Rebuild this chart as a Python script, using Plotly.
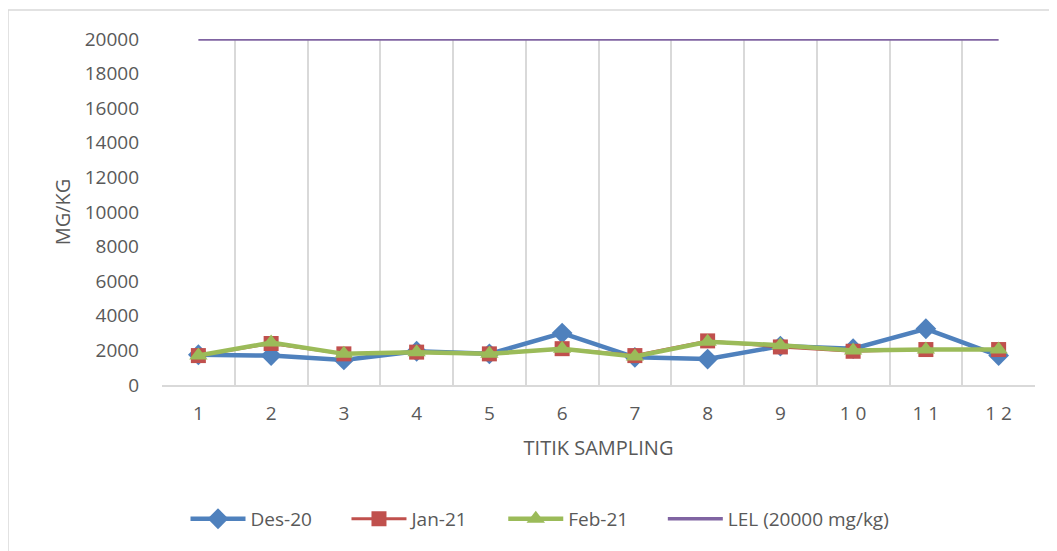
import plotly.graph_objects as go

# Titik sampling 1..12
titik = list(range(1, 13))
titik_label = ["1", "2", "3", "4", "5", "6", "7", "8", "9", "1 0", "1 1", "1 2"]

des_20 = [1750, 1700, 1450, 1950, 1800, 3000, 1600, 1500, 2250, 2100, 3250, 1700]
jan_21 = [1700, 2400, 1800, 1900, 1800, 2100, 1700, 2550, 2200, 1950, 2050, 2050]
feb_21 = [1700, 2450, 1800, 1900, 1800, 2100, 1650, 2500, 2300, 2000, 2050, 2050]
lel = [20000] * 12

y_ticks = list(range(0, 20001, 2000))
y_labels = [str(v) for v in y_ticks]

pad = "\u00a0" * 6  # jarak antar item legenda

fig = go.Figure()

fig.add_trace(go.Scatter(x=titik, y=des_20, name="Des-20" + pad, mode="lines+markers",
                         line=dict(color="#4F81BD", width=4.5),
                         marker=dict(symbol="diamond", size=16, color="#4F81BD")))
fig.add_trace(go.Scatter(x=titik, y=jan_21, name="Jan-21" + pad, mode="lines+markers",
                         line=dict(color="#C0504D", width=3),
                         marker=dict(symbol="square", size=15, color="#C0504D")))
fig.add_trace(go.Scatter(x=titik, y=feb_21, name="Feb-21" + pad, mode="lines+markers",
                         line=dict(color="#9BBB59", width=4.5),
                         marker=dict(symbol="triangle-up", size=16, color="#9BBB59")))
fig.add_trace(go.Scatter(x=titik, y=lel, name="LEL (20000 mg/kg)", mode="lines",
                         line=dict(color="#8064A2", width=3.5), cliponaxis=False))

# bingkai chart
fig.add_shape(type="rect", xref="paper", yref="paper",
              x0=-0.1764, x1=1.05, y0=-0.55, y1=1.0838,
              line=dict(color="#D9D9D9", width=1.5), layer="below")

fig.update_layout(
    width=1057, height=551,
    margin=dict(l=154, r=30, t=31, b=174),
    plot_bgcolor="white", paper_bgcolor="white",
    font=dict(family="Open Sans", size=19, color="#595959"),
    legend=dict(orientation="h", x=0.433, y=-0.387, xanchor="center", yanchor="middle",
                font=dict(size=19, color="#595959"), itemwidth=55, tracegroupgap=0),
    xaxis=dict(range=[0.5, 12.5], tickmode="array", tickvals=titik, ticktext=titik_label,
               showgrid=False, zeroline=False, showline=True, linecolor="#D9D9D9", linewidth=2,
               ticks="", ticklabelstandoff=10,
               minor=dict(tick0=0.5, dtick=1, showgrid=True, gridcolor="#D9D9D9", gridwidth=2, ticks=""),
               title=dict(text="TITIK SAMPLING", standoff=16, font=dict(size=20))),
    yaxis=dict(range=[0, 20000], tickmode="array", tickvals=y_ticks, ticktext=y_labels,
               showgrid=False, zeroline=False, showline=False, ticks="",
               ticklabelstandoff=22,
               title=dict(text="MG/KG", standoff=8, font=dict(size=20))),
)

fig.write_html("out.html")
